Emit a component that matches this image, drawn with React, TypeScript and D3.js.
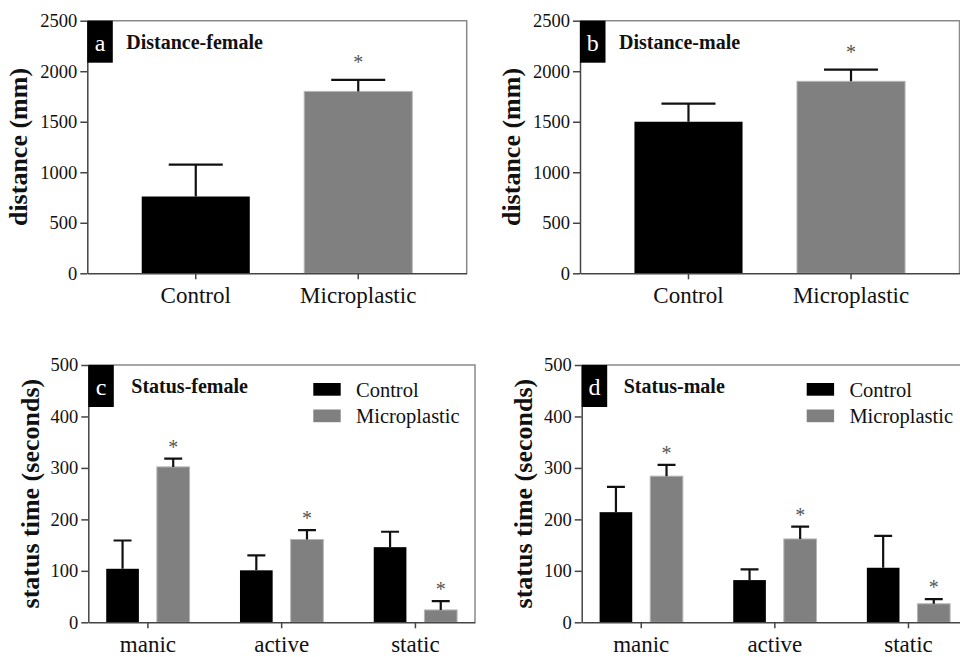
import * as d3 from 'd3';
import React, { useEffect, useRef } from 'react';

// distance panels (a, b)
const distanceGroups = ['Control', 'Microplastic'];
const distanceTicks = [0, 500, 1000, 1500, 2000, 2500];
const femaleDistance = [760, 1800];
const femaleDistanceErr = [315, 115];
const maleDistance = [1500, 1900];
const maleDistanceErr = [180, 115];

// status panels (c, d)
const statusCategories = ['manic', 'active', 'static'];
const statusTicks = [0, 100, 200, 300, 400, 500];
const femaleControl = [104, 101, 146];
const femaleControlErr = [55, 29, 30];
const femaleMicro = [302, 161, 24];
const femaleMicroErr = [16, 18, 17];
const maleControl = [214, 82, 106];
const maleControlErr = [49, 21, 62];
const maleMicro = [284, 162, 36];
const maleMicroErr = [22, 24, 9];

const SERIF = 'Liberation Serif, Times New Roman, serif';
const GRAY = '#808080';

const App = () => {
  const ref = useRef(null);

  useEffect(() => {
    const svg = d3.select(ref.current);
    svg.selectAll('*').remove();

    // axes, box, letter tag, title
    const frame = (p, y, ticks, x) => {
      const g = svg.append('g').style('font-family', SERIF);
      g.append('path')
        .attr('d', `M${p.left},${p.top}H${p.right}V${p.bottom}`)
        .attr('fill', 'none')
        .attr('stroke', '#8a8a8a')
        .attr('stroke-width', 1.5);

      const ya = g.append('g')
        .attr('transform', `translate(${p.left},0)`)
        .call(d3.axisLeft(y).tickValues(ticks).tickFormat(d3.format('d'))
          .tickSize(7).tickPadding(3).tickSizeOuter(0));
      const xa = g.append('g')
        .attr('transform', `translate(0,${p.bottom})`)
        .call(d3.axisBottom(x).tickSize(6).tickSizeOuter(0));

      [ya, xa].forEach(a => {
        a.attr('font-family', null);
        a.select('.domain').attr('stroke', '#444').attr('stroke-width', 1.5);
        a.selectAll('.tick line').attr('stroke', '#444').attr('stroke-width', 1.5);
      });
      ya.selectAll('text')
        .style('font-family', SERIF).attr('font-size', 18.5).attr('fill', '#111');
      xa.selectAll('text')
        .style('font-family', SERIF).attr('font-size', 23).attr('fill', '#111')
        .attr('y', 30).attr('dy', 0);

      g.append('rect')
        .attr('x', p.left).attr('y', p.top)
        .attr('width', 25.5).attr('height', 42)
        .attr('fill', '#000');
      g.append('text')
        .attr('x', p.left + 12.7).attr('y', p.top + 30)
        .attr('text-anchor', 'middle')
        .attr('font-size', 24).attr('fill', '#fff')
        .text(p.letter);
      g.append('text')
        .attr('x', p.left + p.titleDx).attr('y', p.top + 28)
        .attr('font-weight', 'bold').attr('font-size', 20)
        .attr('fill', '#111')
        .text(p.title);
      g.append('text')
        .attr('transform', `translate(${p.yTitleX},${(p.top + p.bottom) / 2}) rotate(-90)`)
        .attr('text-anchor', 'middle')
        .attr('font-weight', 'bold').attr('font-size', 26)
        .attr('fill', '#111')
        .text(p.yTitle);
      return g;
    };

    const errBar = (g, cx, y0, y1, cap) => {
      g.append('path')
        .attr('d', `M${cx},${y0}V${y1}M${cx - cap / 2},${y1}H${cx + cap / 2}`)
        .attr('fill', 'none')
        .attr('stroke', '#111')
        .attr('stroke-width', 2.2);
    };

    const star = (g, cx, yTop, off) => {
      g.append('text')
        .attr('x', cx).attr('y', yTop - off)
        .attr('text-anchor', 'middle')
        .attr('font-size', 20).attr('fill', '#555')
        .text('*');
    };

    // Distance panels
    const distancePanels = [
      { left: 87.3, right: 466.7, top: 20.7, bottom: 273.3, letter: 'a', title: 'Distance-female',
        titleDx: 39, yTitleX: 27, yTitle: 'distance (mm)', values: femaleDistance, errs: femaleDistanceErr },
      { left: 580, right: 959.5, top: 20.7, bottom: 273.3, letter: 'b', title: 'Distance-male',
        titleDx: 39, yTitleX: 520, yTitle: 'distance (mm)', values: maleDistance, errs: maleDistanceErr },
    ];

    distancePanels.forEach(p => {
      const x = d3.scaleBand().domain(distanceGroups).range([p.left, p.right]).padding(0.335);
      const y = d3.scaleLinear().domain([0, 2500]).range([p.bottom, p.top]);
      const g = frame(p, y, distanceTicks, x);
      const bars = g.insert('g', ':first-child');
      distanceGroups.forEach((k, i) => {
        const v = p.values[i];
        const e = p.errs[i];
        const cx = x(k) + x.bandwidth() / 2;
        bars.append('rect')
          .attr('x', x(k)).attr('y', y(v))
          .attr('width', x.bandwidth()).attr('height', y(0) - y(v))
          .attr('fill', i === 0 ? '#000' : GRAY)
          .attr('stroke', i === 0 ? 'none' : '#b5b5b5')
          .attr('stroke-width', 1);
        errBar(g, cx, y(v), y(v + e), x.bandwidth() * 0.5);
        if (i === 1) star(g, cx, y(v + e), 11);
      });
    });

    // Status panels
    const statusPanels = [
      { left: 88.3, right: 475, top: 365, bottom: 622.3, letter: 'c', title: 'Status-female',
        titleDx: 43, yTitleX: 38.5, yTitle: 'status time (seconds)',
        control: femaleControl, controlErr: femaleControlErr, micro: femaleMicro, microErr: femaleMicroErr },
      { left: 581.7, right: 968, top: 365, bottom: 622.3, letter: 'd', title: 'Status-male',
        titleDx: 42, yTitleX: 531.5, yTitle: 'status time (seconds)',
        control: maleControl, controlErr: maleControlErr, micro: maleMicro, microErr: maleMicroErr },
    ];

    statusPanels.forEach(p => {
      const x0 = d3.scaleBand().domain(statusCategories).range([p.left, p.right])
        .paddingInner(0.377).paddingOuter(0.134);
      const x1 = d3.scaleBand().domain(distanceGroups).range([0, x0.bandwidth()])
        .paddingInner(0.355).paddingOuter(0);
      const y = d3.scaleLinear().domain([0, 500]).range([p.bottom, p.top]);
      const g = frame(p, y, statusTicks, x0);
      const bars = g.insert('g', ':first-child');

      statusCategories.forEach((c, i) => {
        const series = [
          { v: p.control[i], e: p.controlErr[i] },
          { v: p.micro[i], e: p.microErr[i] },
        ];
        series.forEach((s, j) => {
          const bx = x0(c) + x1(distanceGroups[j]);
          const cx = bx + x1.bandwidth() / 2;
          bars.append('rect')
            .attr('x', bx).attr('y', y(s.v))
            .attr('width', x1.bandwidth()).attr('height', y(0) - y(s.v))
            .attr('fill', j === 0 ? '#000' : GRAY)
            .attr('stroke', j === 0 ? 'none' : '#b5b5b5')
            .attr('stroke-width', 1);
          errBar(g, cx, y(s.v), y(s.v + s.e), x1.bandwidth() * 0.55);
          if (j === 1) star(g, cx, y(s.v + s.e), 5);
        });
      });

      // legend
      const lg = g.append('g').attr('transform', `translate(${p.left + 225},${p.top})`);
      distanceGroups.forEach((k, j) => {
        lg.append('rect')
          .attr('x', 0).attr('y', 18 + j * 26.5)
          .attr('width', 27.4).attr('height', 12.7)
          .attr('fill', j === 0 ? '#000' : GRAY);
        lg.append('text')
          .attr('x', 42.7).attr('y', 32 + j * 25.5)
          .attr('font-size', 20.5).attr('fill', '#111')
          .text(k);
      });
    });
  }, []);

  return (
    <svg
      ref={ref}
      width={960}
      height={657}
      style={{ position: 'absolute', left: 0, top: 0, background: '#fff' }}
    />
  );
};

export default App;
